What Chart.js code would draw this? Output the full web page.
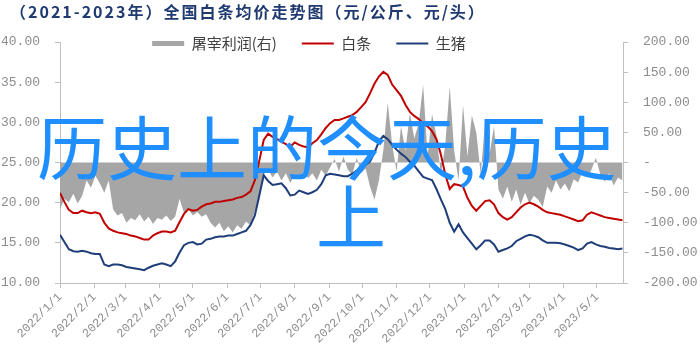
<!DOCTYPE html>
<html>
<head>
<meta charset="utf-8">
<script src="https://cdn.jsdelivr.net/npm/chart.js@4.4.0/dist/chart.umd.min.js"></script>
<style>
  html, body { margin: 0; padding: 0; background: #fff; }
  #wrap { position: relative; width: 700px; height: 351px; overflow: hidden; }
  #title { position: absolute; left: 10px; top: 3px; font: bold 16px/16px "Noto Sans CJK SC"; letter-spacing: 2px; color: #1f3a70; white-space: nowrap; }
  .big { position: absolute; font: 70px/70px "Noto Sans CJK SC"; color: #1f8fff; white-space: nowrap; }
</style>
</head>
<body>
<div id="wrap">
  <canvas id="price-chart" width="700" height="351"></canvas>
  <div id="title">（2021-2023年）全国白条均价走势图（元/公斤、元/头）</div>
  <div class="big" style="left:37px; top:110px;">历史上的今天,历史</div>
  <div class="big" style="left:316px; top:179px;">上</div>
</div>
<script>
// sample dates (every 4 days)
const dates = [
  '2022/1/1','2022/1/5','2022/1/9','2022/1/13','2022/1/17','2022/1/21','2022/1/25','2022/1/29',
  '2022/2/2','2022/2/6','2022/2/10','2022/2/14','2022/2/18','2022/2/22','2022/2/26',
  '2022/3/2','2022/3/6','2022/3/10','2022/3/14','2022/3/18','2022/3/22','2022/3/26','2022/3/30',
  '2022/4/3','2022/4/7','2022/4/11','2022/4/15','2022/4/19','2022/4/23','2022/4/27',
  '2022/5/1','2022/5/5','2022/5/9','2022/5/13','2022/5/17','2022/5/21','2022/5/25','2022/5/29',
  '2022/6/2','2022/6/6','2022/6/10','2022/6/14','2022/6/18','2022/6/22','2022/6/26','2022/6/30',
  '2022/7/4','2022/7/8','2022/7/12','2022/7/16','2022/7/20','2022/7/24','2022/7/28',
  '2022/8/1','2022/8/5','2022/8/9','2022/8/13','2022/8/17','2022/8/21','2022/8/25','2022/8/29',
  '2022/9/2','2022/9/6','2022/9/10','2022/9/14','2022/9/18','2022/9/22','2022/9/26','2022/9/30',
  '2022/10/4','2022/10/8','2022/10/12','2022/10/16','2022/10/20','2022/10/24','2022/10/28',
  '2022/11/1','2022/11/5','2022/11/9','2022/11/13','2022/11/17','2022/11/21','2022/11/25','2022/11/29',
  '2022/12/3','2022/12/7','2022/12/11','2022/12/15','2022/12/19','2022/12/23','2022/12/27','2022/12/31',
  '2023/1/4','2023/1/8','2023/1/12','2023/1/16','2023/1/20','2023/1/24','2023/1/28',
  '2023/2/1','2023/2/5','2023/2/9','2023/2/13','2023/2/17','2023/2/21','2023/2/25',
  '2023/3/1','2023/3/5','2023/3/9','2023/3/13','2023/3/17','2023/3/21','2023/3/25','2023/3/29',
  '2023/4/2','2023/4/6','2023/4/10','2023/4/14','2023/4/18','2023/4/22','2023/4/26','2023/4/30',
  '2023/5/4','2023/5/8','2023/5/12','2023/5/16','2023/5/20','2023/5/24'
];

// 白条 (元/公斤)
const baitiao = [
  21.2,20.1,19.1,18.7,18.7,19.0,18.8,18.7,
  18.8,18.6,17.5,16.8,16.5,16.3,16.2,
  16.1,15.9,15.8,15.6,15.4,15.4,15.9,16.2,
  16.4,16.4,16.3,16.5,17.6,18.6,19.2,
  19.0,19.1,19.5,19.8,19.9,20.1,20.1,20.2,
  20.3,20.4,20.6,20.7,21.0,21.4,22.8,25.2,
  27.8,28.6,28.2,27.9,27.6,27.3,27.0,
  27.5,27.2,27.0,26.9,27.4,27.8,28.5,29.3,
  29.9,30.3,30.3,30.5,30.7,30.9,31.3,31.9,
  32.5,33.6,34.8,35.7,36.3,35.9,34.7,
  34.0,33.3,32.2,31.3,30.8,30.4,29.9,29.5,
  28.9,27.9,26.0,23.5,21.7,22.3,22.2,22.0,
  20.6,19.6,19.0,19.6,20.2,20.3,19.8,
  18.7,18.2,17.9,18.2,18.8,19.4,19.8,
  20.0,19.8,19.5,19.1,18.8,18.7,18.6,18.5,
  18.3,18.1,17.9,17.7,17.8,18.5,18.8,18.6,
  18.4,18.2,18.1,18.0,17.9,17.8
];

// 生猪 (元/公斤)
const shengzhu = [
  16.0,15.1,14.2,13.95,13.9,14.0,13.9,13.7,
  13.6,13.6,12.3,12.1,12.3,12.3,12.2,
  12.0,11.9,11.8,11.7,11.6,11.9,12.15,12.3,
  12.45,12.3,12.1,12.7,13.8,14.7,15.0,
  15.1,14.8,14.9,15.4,15.5,15.7,15.8,15.8,
  15.9,15.9,16.1,16.3,16.5,17.2,18.4,20.9,
  23.4,22.7,22.2,22.3,22.4,21.8,20.9,
  21.0,21.5,21.3,21.1,21.3,21.6,22.3,23.4,
  23.6,23.5,23.4,23.3,23.3,23.6,24.0,24.3,
  24.7,25.1,26.2,27.6,28.3,27.9,27.2,
  26.6,26.1,25.7,25.1,24.6,23.9,23.2,23.0,
  22.8,21.7,20.4,19.2,17.5,16.4,17.3,16.3,
  15.6,14.9,14.2,14.7,15.3,15.3,14.8,
  13.9,14.1,14.3,14.6,15.2,15.5,15.8,
  16.0,15.9,15.7,15.3,15.0,15.0,15.0,14.95,
  14.8,14.6,14.4,14.1,14.3,14.9,15.1,14.8,
  14.6,14.5,14.35,14.3,14.2,14.3
];

// 屠宰利润 (元/头, right axis)
const profit = [
  -78,-60,-66,-52,-68,-55,-30,-42,
  -22,-35,-50,-30,-78,-88,-84,
  -100,-92,-96,-86,-98,-90,-102,-92,
  -95,-88,-97,-90,-60,-84,-78,
  -88,-82,-90,-86,-100,-108,-100,-114,
  -106,-116,-104,-110,-98,-104,-80,-62,
  -20,-12,-25,-15,-30,-18,-34,
  -20,-28,-14,-26,-18,-30,-12,-22,
  -8,6,-15,10,-12,-20,8,-18,
  -10,-40,-62,-30,20,99,30,
  -15,60,20,82,40,65,129,10,
  80,45,-20,30,126,20,-30,95,
  10,78,50,-20,70,15,60,
  -45,-60,-40,-65,-45,-70,-50,
  -68,-55,-62,-74,-40,-50,-30,-45,
  -35,-48,-28,-33,-15,-25,-12,8,
  -20,-32,-18,-38,-25,-30
];

const monthTicks = [
  '2022/1/1','2022/2/1','2022/3/1','2022/4/1','2022/5/1','2022/6/1','2022/7/1','2022/8/1',
  '2022/9/1','2022/10/1','2022/11/1','2022/12/1','2023/1/1','2023/2/1','2023/3/1','2023/4/1','2023/5/1'
];

const base = Date.UTC(2022, 0, 1);
function dayOf(s) {
  const [y, m, d] = s.split('/').map(Number);
  return (Date.UTC(y, m - 1, d) - base) / 86400000;
}
const pts = arr => arr.map((v, i) => ({ x: dayOf(dates[i]), y: v }));

const axisColor = '#bfbfbf';
const tickFont = { family: 'Liberation Mono', size: 13 };
const tickColor = '#8c8c8c';

// move the legend down into the plot and a bit left of centre
const legendShift = {
  id: 'legendShift',
  afterLayout(chart) {
    const lg = chart.legend;
    lg.left -= 41;
    lg.right -= 41;
    lg.top += 19;
    lg.bottom += 19;
  }
};

const ctx = document.getElementById('price-chart');

new Chart(ctx, {
  type: 'line',
  data: {
    datasets: [
      {
        label: '屠宰利润(右)',
        data: pts(profit),
        yAxisID: 'y1',
        fill: 'origin',
        backgroundColor: '#a6a6a6',
        borderColor: '#a6a6a6',
        borderWidth: 0,
        pointRadius: 0,
        pointStyle: 'rect',
        tension: 0,
        order: 3
      },
      {
        label: '白条',
        data: pts(baitiao),
        yAxisID: 'y',
        borderColor: '#c00000',
        backgroundColor: '#c00000',
        borderWidth: 2,
        pointRadius: 0,
        pointStyle: 'line',
        tension: 0,
        order: 2
      },
      {
        label: '生猪',
        data: pts(shengzhu),
        yAxisID: 'y',
        borderColor: '#1f3e79',
        backgroundColor: '#1f3e79',
        borderWidth: 2,
        pointRadius: 0,
        pointStyle: 'line',
        tension: 0,
        order: 1
      }
    ]
  },
  options: {
    responsive: false,
    animation: false,
    layout: { padding: { top: -8, left: 0, right: 0, bottom: 0 } },
    plugins: {
      tooltip: { enabled: false },
      legend: {
        position: 'top',
        align: 'center',
        labels: {
          usePointStyle: true,
          pointStyleWidth: 32,
          boxHeight: 5,
          padding: 25,
          color: '#404040',
          font: { family: 'Noto Sans CJK SC', size: 15 },
          sort: (a, b) => a.datasetIndex - b.datasetIndex
        }
      }
    },
    scales: {
      x: {
        type: 'linear',
        offset: false,
        min: 0,
        max: 508.5,
        afterBuildTicks: s => { s.ticks = monthTicks.map(t => ({ value: dayOf(t) })); },
        afterFit: s => { s.height = 68; },
        ticks: {
          autoSkip: false,
          maxRotation: 45,
          minRotation: 45,
          padding: 2,
          color: tickColor,
          font: { family: 'Liberation Mono', size: 12 },
          callback: v => monthTicks.find(t => dayOf(t) === v)
        },
        grid: { drawOnChartArea: false, tickLength: 5, color: axisColor },
        border: { color: axisColor }
      },
      y: {
        position: 'left',
        min: 10,
        max: 40,
        afterFit: s => { s.width = 60; },
        ticks: {
          stepSize: 5,
          padding: 15,
          color: tickColor,
          font: tickFont,
          callback: v => v.toFixed(2)
        },
        grid: { drawOnChartArea: false, tickLength: 5, color: axisColor },
        border: { color: axisColor }
      },
      y1: {
        position: 'right',
        min: -200,
        max: 200,
        afterFit: s => { s.width = 77; },
        ticks: {
          stepSize: 50,
          padding: 15,
          color: tickColor,
          font: tickFont,
          callback: v => v === 0 ? '-' : v.toFixed(2)
        },
        grid: { drawOnChartArea: false, tickLength: 5, color: axisColor },
        border: { color: axisColor }
      }
    }
  },
  plugins: [legendShift]
});
</script>
</body>
</html>
